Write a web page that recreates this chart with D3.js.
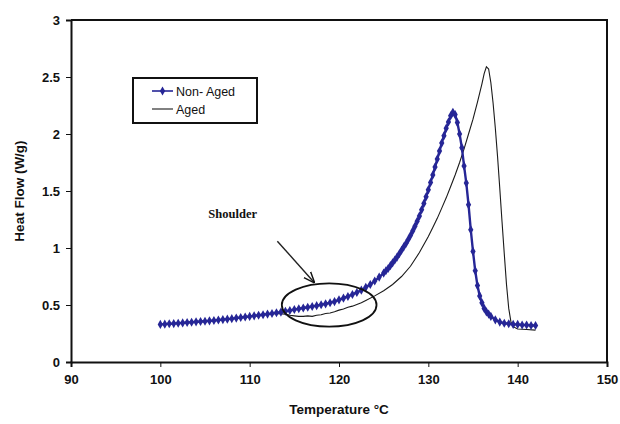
<!DOCTYPE html>
<html>
<head>
<meta charset="utf-8">
<script src="https://cdn.jsdelivr.net/npm/d3@7"></script>
<style>
  body { margin: 0; background: #fff; }
  svg { display: block; }
  .legend-text { font-family: "Liberation Sans", Arial, sans-serif; font-size: 12.5px; fill: #111; }
  .note { font-family: "Liberation Serif", "Times New Roman", serif; font-weight: bold; font-size: 12.5px; fill: #111; }
</style>
</head>
<body>
<svg></svg>
<script>
// x ticks / y ticks
var xTicks = [90, 100, 110, 120, 130, 140, 150];
var yTicks = [0, 0.5, 1, 1.5, 2, 2.5, 3];

// Non-Aged series (temperature, heat flow)
var nonAgedTemp = [100, 100.5, 101, 101.5, 102, 102.5, 103, 103.5, 104, 104.5, 105, 105.5, 106, 106.5, 107, 107.5,
  108, 108.5, 109, 109.5, 110, 110.5, 111, 111.5, 112, 112.5, 113, 113.5, 114, 114.5, 115, 115.5, 116, 116.5,
  117, 117.5, 118, 118.5, 119, 119.5, 120, 120.5, 121, 121.5, 122, 122.5, 123, 123.5, 124, 124.5, 125,
  125.25, 125.5, 125.75, 126, 126.25, 126.5, 126.75, 127, 127.25, 127.5, 127.75, 128, 128.25, 128.5, 128.75,
  129, 129.25, 129.5, 129.75, 130, 130.25, 130.5, 130.75, 131, 131.25, 131.5, 131.75, 132, 132.25, 132.5,
  132.75, 133, 133.25, 133.5, 133.75, 134, 134.25, 134.5, 134.75, 135, 135.25, 135.5, 135.75, 136, 136.25,
  136.5, 136.75, 137, 137.5, 138, 138.5, 139, 139.5, 140, 140.5, 141, 141.5, 142];
var nonAgedFlow = [0.33, 0.332, 0.335, 0.337, 0.34, 0.343, 0.346, 0.349, 0.352, 0.355, 0.358, 0.361, 0.364, 0.368, 0.372, 0.376,
  0.38, 0.385, 0.39, 0.395, 0.40, 0.405, 0.41, 0.415, 0.42, 0.426, 0.432, 0.438, 0.445, 0.452, 0.46, 0.467, 0.474, 0.48,
  0.487, 0.494, 0.502, 0.51, 0.52, 0.53, 0.545, 0.56, 0.575, 0.592, 0.61, 0.63, 0.655, 0.68, 0.71, 0.745, 0.78,
  0.80, 0.82, 0.845, 0.87, 0.895, 0.92, 0.95, 0.98, 1.01, 1.04, 1.075, 1.11, 1.15, 1.19, 1.235,
  1.28, 1.335, 1.39, 1.45, 1.51, 1.575, 1.64, 1.71, 1.78, 1.85, 1.92, 1.985, 2.05, 2.105, 2.16,
  2.19, 2.17, 2.10, 2.0, 1.88, 1.72, 1.57, 1.38, 1.16, 0.97, 0.80, 0.67, 0.58, 0.52, 0.47,
  0.44, 0.42, 0.40, 0.37, 0.35, 0.34, 0.335, 0.33, 0.33, 0.325, 0.325, 0.32, 0.32];

// Aged series
var agedTemp = [100, 101, 102, 103, 104, 105, 106, 107, 108, 109, 110, 111, 112, 113, 114, 114.5, 115, 115.5,
  116, 116.5, 117, 117.5, 118, 118.5, 119, 119.5, 120, 120.5, 121, 121.5, 122, 122.5, 123, 124, 125, 126,
  127, 128, 129, 130, 130.5, 131, 131.5, 132, 132.5, 133, 133.5, 134, 134.5, 135, 135.5, 136, 136.25, 136.5,
  136.75, 137, 137.25, 137.5, 137.75, 138, 138.25, 138.5, 138.75, 139, 139.25, 139.5, 140, 141, 142];
var agedFlow = [0.33, 0.335, 0.34, 0.346, 0.352, 0.358, 0.364, 0.372, 0.38, 0.39, 0.40, 0.41, 0.42, 0.425, 0.42, 0.41, 0.405, 0.40,
  0.40, 0.405, 0.40, 0.41, 0.415, 0.425, 0.43, 0.44, 0.455, 0.465, 0.48, 0.49, 0.505, 0.52, 0.54, 0.58, 0.625, 0.68,
  0.75, 0.84, 0.96, 1.1, 1.18, 1.26, 1.35, 1.44, 1.54, 1.64, 1.75, 1.87, 2.0, 2.13, 2.28, 2.44, 2.53, 2.59,
  2.57, 2.45, 2.27, 2.05, 1.8, 1.52, 1.23, 0.95, 0.68, 0.47, 0.35, 0.31, 0.29, 0.285, 0.28];

var nonAged = nonAgedTemp.map(function(t, i) { return { t: t, v: nonAgedFlow[i] }; });
var aged = agedTemp.map(function(t, i) { return { t: t, v: agedFlow[i] }; });

var svgWidth = 620, svgHeight = 424;
var margin = { top: 20, right: 13, bottom: 62, left: 71 };
var width = svgWidth - margin.left - margin.right;
var height = svgHeight - margin.top - margin.bottom;
var narrowFont = '"Liberation Sans Narrow", "Arial Narrow", "Liberation Sans", Arial, sans-serif';

var svg = d3.select('svg')
  .attr('width', svgWidth)
  .attr('height', svgHeight);

var chart = svg.append('g')
  .attr('transform', `translate(${margin.left}, ${margin.top})`);

var x = d3.scaleLinear().domain([90, 150]).range([0, width]);
var y = d3.scaleLinear().domain([0, 3]).range([height, 0]);

var line = d3.line()
  .x(function(d) { return x(d.t); })
  .y(function(d) { return y(d.v); });

// frame (top + right)
chart.append('path')
  .attr('d', `M0,0H${width}V${height}`)
  .attr('fill', 'none')
  .attr('stroke', '#111')
  .attr('stroke-width', 2);

// axes
var xAxis = chart.append('g')
  .attr('transform', 'translate(0,' + height + ')')
  .call(d3.axisBottom(x).tickValues(xTicks).tickSize(5).tickPadding(8).tickFormat(d3.format('d')));
var yAxis = chart.append('g')
  .call(d3.axisLeft(y).tickValues(yTicks).tickSize(5).tickPadding(6).tickFormat(function(d) { return d; }));

[xAxis, yAxis].forEach(function(a) {
  a.select('.domain').attr('stroke', '#111').attr('stroke-width', 2);
  a.selectAll('.tick line').attr('stroke', '#111').attr('stroke-width', 1);
  a.selectAll('.tick text')
    .style('font-family', narrowFont)
    .style('font-weight', 'bold')
    .style('font-size', '13px')
    .style('fill', '#111');
});

// aged line
chart.append('path')
  .datum(aged)
  .attr('fill', 'none')
  .attr('stroke', '#1a1a1a')
  .attr('stroke-width', 1.1)
  .attr('d', line);

// non-aged line + markers
var blue = '#262696';
chart.append('path')
  .datum(nonAged)
  .attr('fill', 'none')
  .attr('stroke', blue)
  .attr('stroke-width', 2.4)
  .attr('d', line);

var diamond = d3.symbol().type(d3.symbolDiamond).size(24);
chart.selectAll('.pt')
  .data(nonAged)
  .enter()
  .append('path')
  .attr('class', 'pt')
  .attr('d', diamond)
  .attr('fill', blue)
  .attr('transform', function(d) { return `translate(${x(d.t)},${y(d.v)})`; });

// shoulder annotation
chart.append('ellipse')
  .attr('cx', x(118.9))
  .attr('cy', y(0.5))
  .attr('rx', x(124.2) - x(118.9))
  .attr('ry', y(0.31) - y(0.5))
  .attr('fill', 'none')
  .attr('stroke', '#111')
  .attr('stroke-width', 1.8);

svg.append('defs').append('marker')
  .attr('id', 'arrow')
  .attr('viewBox', '0 0 10 10')
  .attr('refX', 9).attr('refY', 5)
  .attr('markerWidth', 8).attr('markerHeight', 8)
  .attr('orient', 'auto')
  .append('path')
  .attr('d', 'M0,1L10,5L0,9')
  .attr('fill', 'none')
  .attr('stroke', '#111')
  .attr('stroke-width', 1.3);

chart.append('line')
  .attr('x1', x(113.1)).attr('y1', y(1.06))
  .attr('x2', x(117.2)).attr('y2', y(0.7))
  .attr('stroke', '#222')
  .attr('stroke-width', 1.4)
  .attr('marker-end', 'url(#arrow)');

chart.append('text')
  .attr('class', 'note')
  .attr('x', x(108.1))
  .attr('y', y(1.26))
  .attr('text-anchor', 'middle')
  .text('Shoulder');

// legend
var legend = svg.append('g').attr('transform', 'translate(133,78)');
legend.append('rect')
  .attr('width', 124).attr('height', 45)
  .attr('fill', '#fff')
  .attr('stroke', '#111')
  .attr('stroke-width', 2);
legend.append('line')
  .attr('x1', 19).attr('x2', 40).attr('y1', 13).attr('y2', 13)
  .attr('stroke', blue).attr('stroke-width', 1.6);
legend.append('path')
  .attr('d', diamond)
  .attr('fill', blue)
  .attr('transform', 'translate(29.5,13)');
legend.append('text').attr('class', 'legend-text')
  .attr('x', 43).attr('y', 17.5).text('Non- Aged');
legend.append('line')
  .attr('x1', 19).attr('x2', 40).attr('y1', 31).attr('y2', 31)
  .attr('stroke', '#1a1a1a').attr('stroke-width', 1.1);
legend.append('text').attr('class', 'legend-text')
  .attr('x', 43).attr('y', 35.5).text('Aged');

// axis titles
svg.append('text')
  .attr('x', margin.left + width / 2)
  .attr('y', 414)
  .attr('text-anchor', 'middle')
  .style('font-family', narrowFont)
  .style('font-weight', 'bold')
  .style('font-size', '13.5px')
  .style('fill', '#111')
  .text('Temperature °C');

svg.append('text')
  .attr('transform', 'translate(24,' + (margin.top + height / 2) + ') rotate(-90)')
  .attr('text-anchor', 'middle')
  .style('font-family', narrowFont)
  .style('font-weight', 'bold')
  .style('font-size', '13.5px')
  .style('fill', '#111')
  .text('Heat Flow (W/g)');
</script>
</body>
</html>
